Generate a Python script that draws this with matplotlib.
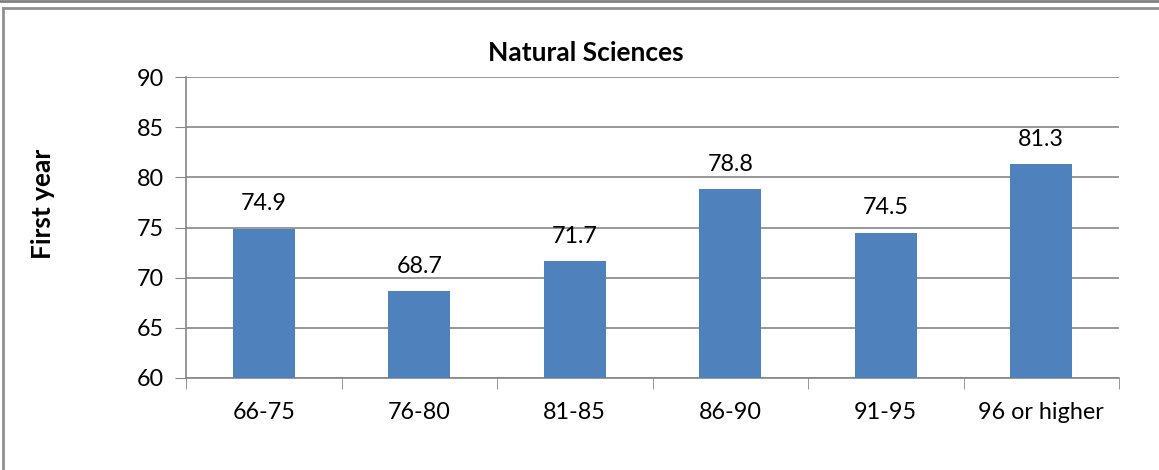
import matplotlib.pyplot as plt
from matplotlib.lines import Line2D

categories = ["66-75", "76-80", "81-85", "86-90", "91-95", "96 or higher"]
values = [74.9, 68.7, 71.7, 78.8, 74.5, 81.3]
yticks = [60, 65, 70, 75, 80, 85, 90]

plt.rcParams['font.family'] = ['Lato', 'DejaVu Sans']

W, H = 1159, 470
fig = plt.figure(figsize=(W / 100, H / 100), dpi=100)
ax = fig.add_axes([186 / W, 1 - 378 / H, (1119 - 186) / W, (378 - 77) / H])

x = range(len(categories))
ax.bar(x, values, width=0.4, color="#4f81bd", zorder=3)
for i, v in enumerate(values):
    ax.text(i, v + 1.4, f"{v:.1f}", ha="center", va="bottom", fontsize=16.8)

ax.set_ylim(60, 90)
ax.set_xlim(-0.5, len(categories) - 0.5)
ax.set_yticks(yticks)
ax.set_xticks(x)
ax.set_xticklabels(categories)
ax.tick_params(axis="y", direction="out", length=8, color="#868686", labelsize=16.8, pad=8)
ax.tick_params(axis="x", length=0, labelsize=16.8, pad=17)
# ticks between categories
ax.set_xticks([i - 0.5 for i in range(len(categories) + 1)], minor=True)
ax.tick_params(axis="x", which="minor", direction="out", length=8, color="#868686")
ax.grid(axis="y", color="#868686", linewidth=1.2, zorder=0)
for s in ["top", "right"]:
    ax.spines[s].set_visible(False)
for s in ["left", "bottom"]:
    ax.spines[s].set_color("#868686")
    ax.spines[s].set_linewidth(1.2)

fig.text(586 / W, 1 - 53 / H, "Natural Sciences", ha="center", va="center",
         fontsize=19, fontweight="bold")
fig.text(43 / W, 1 - 204 / H, "First year", rotation=90, ha="center", va="center",
         fontsize=19, fontweight="bold")

# outer frame lines
fig.add_artist(Line2D([0, 1], [1 - 1 / H, 1 - 1 / H], color="#808080", linewidth=2))
fig.add_artist(Line2D([3 / W, 1], [1 - 8 / H, 1 - 8 / H], color="#909090", linewidth=2))
fig.add_artist(Line2D([3 / W, 3 / W], [0, 1 - 8 / H], color="#909090", linewidth=2))

fig.savefig("out.png", dpi=100)
